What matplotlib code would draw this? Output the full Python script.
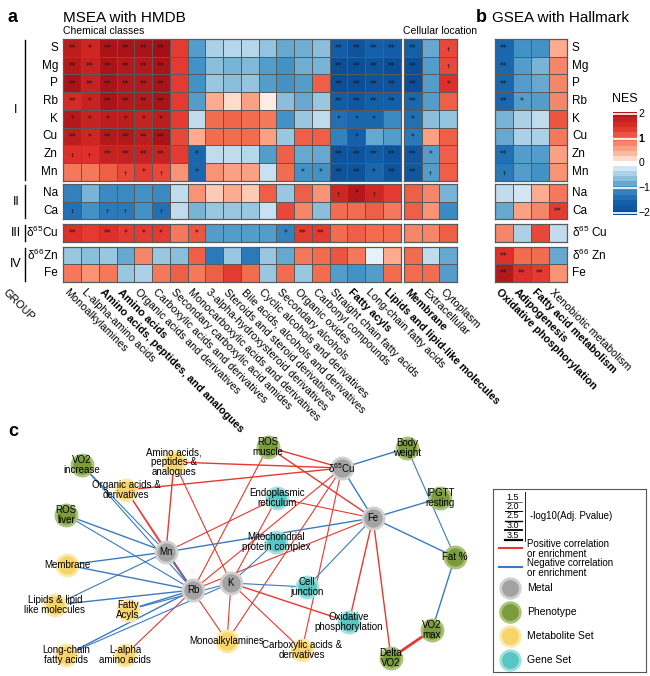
import numpy as np
import matplotlib.pyplot as plt
from matplotlib.colors import LinearSegmentedColormap, Normalize

plt.rcParams['font.family'] = ['Liberation Sans', 'DejaVu Sans']
plt.rcParams['mathtext.fontset'] = 'custom'
plt.rcParams['mathtext.rm'] = 'Liberation Sans'
plt.rcParams['mathtext.it'] = 'Liberation Sans:italic'
plt.rcParams['mathtext.bf'] = 'Liberation Sans:bold'

W, H = 650, 676

# ---------------- data ----------------
rows = ['S', 'Mg', 'P', 'Rb', 'K', 'Cu', 'Zn', 'Mn', 'Na', 'Ca',
        r'$\mathrm{\delta^{65}Cu}$', r'$\mathrm{\delta^{66}Zn}$', 'Fe']
rows_b = ['S', 'Mg', 'P', 'Rb', 'K', 'Cu', 'Zn', 'Mn', 'Na', 'Ca',
          r'$\mathrm{\delta^{65}}$ Cu', r'$\mathrm{\delta^{66}}$ Zn', 'Fe']
groups = ['I', 'II', 'III', 'IV']
group_rows = [8, 2, 1, 2]

chem_classes = ['Monoalkylamines', 'L-alpha-amino acids',
                'Amino acids, peptides, and analogues', 'Amino acids',
                'Organic acids and derivatives', 'Carboxylic acids and derivatives',
                'Secondary carboxylic acid amides', 'Monocarboxylic acids and derivatives',
                '3-alpha-hydroxysteroid derivatives', 'Steroids and steroid derivatives',
                'Bile acids, alcohols and derivatives', 'Cyclic alcohols and derivatives',
                'Secondary alcohols', 'Organic oxides', 'Carbonyl compounds',
                'Straight chain fatty acids', 'Fatty acyls', 'Long-chain fatty acids',
                'Lipids and lipid-like molecules']
chem_bold = ['Amino acids, peptides, and analogues', 'Amino acids',
             'Fatty acyls', 'Lipids and lipid-like molecules']
locations = ['Membrane', 'Extracellular', 'Cytoplasm']
loc_bold = ['Membrane']
hallmarks = ['Oxidative phosphorylation', 'Adipogenesis',
             'Fatty acid metabolism', 'Xenobiotic metabolism']
hall_bold = ['Oxidative phosphorylation', 'Adipogenesis', 'Fatty acid metabolism']

nes_chem = [
    [1.9, 1.7, 2.1, 2.1, 2.1, 2.2, 1.4, -0.9, -0.4, -0.35, -0.35, -0.55, -0.8, -0.75, -0.6, -1.7, -1.9, -1.6, -1.7],
    [2.0, 1.8, 2.1, 2.0, 2.0, 2.1, 1.4, -1.0, -0.6, -0.7, -0.65, -0.9, -1.0, -0.75, -0.7, -2.0, -2.0, -1.9, -2.0],
    [2.1, 1.8, 2.1, 2.0, 2.0, 2.1, 1.4, -1.0, -0.5, -0.6, -0.55, -0.9, -1.0, -0.9, 1.1, -2.0, -2.0, -1.9, -1.9],
    [1.6, 1.8, 2.1, 2.0, 2.0, 2.1, 1.4, -0.9, 0.5, 0.2, 0.6, 0.1, -0.6, -0.8, -0.5, -1.7, -1.8, -1.6, -1.6],
    [2.0, 1.8, 1.9, 1.9, 1.8, 1.9, 1.4, -0.3, 1.0, 1.05, 1.0, 0.9, -1.0, -0.5, -0.3, -1.4, -1.5, -1.5, -1.1],
    [1.9, 1.7, 2.0, 2.0, 1.9, 2.1, 1.3, 0.5, 1.0, 1.0, 1.0, 0.6, -0.5, 1.1, 1.1, -1.2, -1.6, -0.8, -0.9],
    [1.5, 1.5, 1.8, 1.8, 1.8, 1.8, 1.4, -1.5, -0.3, -0.3, -0.35, -0.9, 1.1, -0.8, -0.8, -1.9, -1.9, -1.7, -1.9],
    [0.9, 0.9, 1.1, 1.3, 1.4, 1.3, 0.7, -1.5, 0.7, 0.6, 0.6, -0.25, 1.0, -1.0, -1.0, -1.9, -1.9, -1.5, -1.9],
    [-1.2, -0.7, -1.1, -1.1, -1.0, -1.1, -0.3, 0.7, 0.3, 0.5, 0.3, 1.1, -0.5, 1.1, 0.7, 1.7, 2.0, 1.7, 1.4],
    [-1.4, -1.0, -1.3, -1.3, -1.0, -1.4, -0.3, -0.7, -0.5, -0.5, -0.5, -0.25, 1.3, 0.8, -0.6, 1.0, 1.0, 1.1, 0.9],
    [1.5, 1.4, 1.5, 1.4, 1.4, 1.4, 0.9, 1.2, -0.9, -0.9, -0.9, -0.9, -1.2, 1.4, 1.4, 1.0, 1.1, 1.0, 1.0],
    [-0.5, -0.6, -0.5, -0.8, 0.8, -0.5, -0.6, 1.1, -1.3, -0.5, -1.3, -0.5, -0.8, 0.9, 1.0, 1.2, 0.9, -0.1, 0.5],
    [0.9, 0.7, 0.9, -0.5, -0.4, 0.9, 1.1, 0.9, 1.1, 1.4, 1.0, -0.5, 1.0, -0.5, 1.0, -0.9, -1.0, -0.9, 1.0],
]
sig_chem = [
    ['**', '*', '**', '**', '**', '**'] + [''] * 9 + ['**', '**', '**', '**'],
    ['**'] * 6 + [''] * 9 + ['**'] * 4,
    ['**'] * 6 + [''] * 9 + ['**'] * 4,
    ['**', '*', '**', '**', '**', '**'] + [''] * 9 + ['**'] * 4,
    ['*'] * 6 + [''] * 9 + ['*', '*', '*', ''],
    ['**', '*', '**', '**', '**', '**'] + [''] * 10 + ['*', '', ''],
    ['†', '†', '**', '**', '**', '**', '', '*'] + [''] * 7 + ['**'] * 4,
    ['', '', '', '†', '*', '†', '', '*', '', '', '', '', '', '*', '*', '**', '**', '*', '**'],
    [''] * 15 + ['†', '*', '†', ''],
    ['†', '', '†', '†', '', '†'] + [''] * 13,
    ['**', '', '**', '*', '*', '*', '', '*', '', '', '', '', '*', '**', '**', '', '', '', ''],
    [''] * 19,
    [''] * 19,
]
nes_loc = [[-1.6, -0.8, 1.3], [-2.0, -0.9, 1.3], [-2.0, -0.9, 1.5], [-1.5, -0.9, 1.1],
           [-1.4, -0.6, -0.55], [-1.3, 0.6, 1.1], [-1.8, -0.9, 1.1], [-1.8, -0.9, 1.1],
           [1.1, 0.8, -0.7], [1.1, 0.7, -1.1], [0.8, 0.8, 1.1], [1.0, -0.3, -0.8],
           [1.0, 1.0, -0.9]]
sig_loc = [['**', '', '†'], ['**', '', '†'], ['**', '', '*'], ['**', '', ''],
           ['*', '', ''], ['*', '', ''], ['**', '*', ''], ['**', '†', ''],
           ['', '', ''], ['', '', ''], ['', '', ''], ['', '', ''], ['', '', '']]
nes_hall = [[-1.5, -1.0, -1.0, 0.5], [-1.5, -0.9, -0.7, 0.8], [-1.5, -0.9, -0.8, 0.8],
            [-1.5, -0.9, -0.9, 0.8], [-0.7, -0.4, -0.3, 1.2], [-0.8, -0.4, -0.4, 0.9],
            [-1.4, -0.9, -0.9, 0.6], [-1.3, -0.9, -1.0, 0.7], [-0.3, -0.2, 0.5, 0.9],
            [-0.8, 0.6, 0.8, 1.4], [0.8, -0.4, 1.3, -0.3], [1.5, 1.0, 1.0, -0.8],
            [2.0, 1.5, 1.4, 0.7]]
sig_hall = [['**', '', '', ''], ['**', '', '', ''], ['**', '', '', ''], ['**', '*', '', ''],
            ['', '', '', ''], ['', '', '', ''], ['**', '', '', ''], ['†', '', '', ''],
            ['', '', '', ''], ['', '', '', '**'], ['', '', '', ''], ['**', '', '', ''],
            ['**', '**', '**', '']]

# network: nodes and edges (a, b, sign, weight)
node_names = ['Cu65', 'Fe', 'Mn', 'Rb', 'K',
              'VO2inc', 'ROSm', 'BW', 'ROSl', 'IPGTT', 'Fat', 'VO2max', 'dVO2',
              'AA', 'OA', 'Memb', 'Lip', 'FA', 'LCFA', 'LAA', 'Mono', 'Carb',
              'ER', 'Mito', 'CJ', 'OxPhos']
node_labels = [r'$\mathrm{\delta^{65}Cu}$', 'Fe', 'Mn', 'Rb', 'K',
               'VO2\nincrease', 'ROS\nmuscle', 'Body\nweight', 'ROS\nliver', 'IPGTT\nresting',
               'Fat %', 'VO2\nmax', 'Delta\nVO2',
               'Amino acids,\npeptides &\nanalogues', 'Organic acids &\nderivatives', 'Membrane',
               'Lipids & lipid\nlike molecules', 'Fatty\nAcyls', 'Long-chain\nfatty acids',
               'L-alpha\namino acids', 'Monoalkylamines', 'Carboxylic acids &\nderivatives',
               'Endoplasmic\nreticulum', 'Mitochondrial\nprotein complex', 'Cell\njunction',
               'Oxidative\nphosphorylation']
node_types = ['Metal'] * 5 + ['Phenotype'] * 8 + ['Metabolite Set'] * 9 + ['Gene Set'] * 4
node_x = [342, 373, 166, 193, 231, 82, 268, 407, 66, 440, 455, 432, 391,
          174, 126, 67, 55, 128, 66, 125, 227, 302, 277, 276, 307, 349]
node_y = [468, 518, 552, 590, 583, 465, 447, 448, 515, 498, 557, 630, 658,
          462, 490, 565, 605, 610, 655, 655, 641, 650, 498, 542, 587, 622]
edges = [
    ('AA', 'Cu65', 1, 1.0), ('AA', 'Mn', 1, 1.0), ('AA', 'K', 1, 0.8), ('OA', 'Cu65', 1, 1.0),
    ('OA', 'Mn', 1, 0.8), ('ROSm', 'Cu65', 1, 1.0), ('ROSm', 'Fe', 1, 1.0), ('ROSm', 'Rb', 1, 0.8),
    ('Cu65', 'Mono', 1, 0.8), ('Cu65', 'Carb', 1, 0.8), ('Cu65', 'Rb', 1, 0.8),
    ('Fe', 'dVO2', 1, 1.0), ('Fe', 'OxPhos', 1, 1.0), ('Fe', 'ER', 1, 0.8), ('Fe', 'Rb', 1, 0.8),
    ('K', 'Mono', 1, 0.8), ('K', 'OxPhos', 1, 1.0), ('K', 'Carb', 1, 0.8), ('K', 'ER', 1, 0.8),
    ('Rb', 'LAA', 1, 0.8), ('Mn', 'Mono', 1, 0.8), ('VO2max', 'dVO2', 1, 2.0),
    ('Mn', 'ER', 1, 0.8), ('Rb', 'OA', 1, 0.8),
    ('BW', 'Cu65', -1, 1.0), ('Cu65', 'Fe', -1, 1.0), ('Fe', 'IPGTT', -1, 1.0), ('Fe', 'Fat', -1, 1.0),
    ('Fe', 'Mn', -1, 1.0), ('Fe', 'CJ', -1, 0.8), ('Fat', 'VO2max', -1, 1.0), ('Fat', 'BW', -1, 0.8),
    ('Mn', 'ROSl', -1, 1.0), ('Mn', 'Memb', -1, 1.0), ('Mn', 'Lip', -1, 0.8), ('Rb', 'Memb', -1, 1.0),
    ('Rb', 'Lip', -1, 1.0), ('Rb', 'FA', -1, 1.0), ('Rb', 'LCFA', -1, 1.0), ('K', 'FA', -1, 0.8),
    ('K', 'LCFA', -1, 0.8), ('Rb', 'VO2inc', -1, 0.8), ('Mn', 'VO2inc', -1, 0.8),
    ('K', 'Mito', -1, 0.8), ('K', 'CJ', -1, 0.8), ('ROSl', 'Rb', -1, 0.8), ('Mn', 'Rb', -1, 1.0),
]

# ---------------- helpers ----------------
fig = plt.figure(figsize=(W / 100, H / 100), dpi=100)


def px_axes(x0, y0, x1, y1):
    return fig.add_axes([x0 / W, 1 - y1 / H, (x1 - x0) / W, (y1 - y0) / H])


def ftext(x, y, s, **kw):
    fig.text(x / W, 1 - y / H, s, **kw)


cmap = LinearSegmentedColormap.from_list('nes', [
    (0.00, '#08468f'), (0.14, '#1461aa'), (0.27, '#4292c6'), (0.39, '#9ecae1'),
    (0.47, '#deebf7'), (0.50, '#ffffff'), (0.53, '#fee5d9'), (0.61, '#fcae91'),
    (0.73, '#f26c4f'), (0.84, '#e0302a'), (1.00, '#a50f15')])
norm = Normalize(-2.2, 2.2)

row_top = [39, 184, 224, 246.5]
row_h = 17.7


def draw_block(x0, x1, vals, sigs):
    vals = np.array(vals)
    r = 0
    for g, n in enumerate(group_rows):
        y0 = row_top[g]
        ax = px_axes(x0, y0, x1, y0 + n * row_h)
        ax.pcolormesh(vals[r:r + n], cmap=cmap, norm=norm, edgecolors='#5a5a5a', linewidth=0.6)
        for i in range(n):
            for j in range(vals.shape[1]):
                s = sigs[r + i][j]
                if s:
                    ax.text(j + 0.5, i + 0.55, s, ha='center', va='center',
                            fontsize=4.5 if s == '†' else 5.5,
                            color='#1a1a1a', family='DejaVu Sans')
        ax.set_xlim(0, vals.shape[1])
        ax.set_ylim(n, 0)
        ax.set_xticks([])
        ax.set_yticks([])
        for sp in ax.spines.values():
            sp.set_color('#5a5a5a')
            sp.set_linewidth(0.9)
        r += n


cw = (400.7 - 63.3) / 19
draw_block(63.3, 400.7, nes_chem, sig_chem)
draw_block(404, 457, nes_loc, sig_loc)
draw_block(495, 567, nes_hall, sig_hall)

# row labels
for i, lab in enumerate(rows):
    g = 0 if i < 8 else (1 if i < 10 else (2 if i < 11 else 3))
    start = sum(group_rows[:g])
    yc = row_top[g] + (i - start + 0.5) * row_h
    ftext(58, yc, lab, ha='right', va='center', fontsize=8.5)
    ftext(572, yc, rows_b[i], ha='left', va='center', fontsize=8.5)

# group brackets
for g, n in enumerate(group_rows):
    y0 = row_top[g]
    y1 = y0 + n * row_h
    fig.add_artist(plt.Line2D([25 / W, 25 / W], [1 - (y0 + 1) / H, 1 - (y1 - 1) / H],
                              color='black', lw=1))
    ftext(16, (y0 + y1) / 2, groups[g], ha='center', va='center', fontsize=9)

# column labels
lab_y = 287
for j, lab in enumerate(chem_classes):
    ftext(63.3 + (j + 0.5) * cw - 3, lab_y, lab, rotation=-45, ha='left', va='top',
          rotation_mode='anchor', fontsize=7.8,
          fontweight='bold' if lab in chem_bold else 'normal')
for j, lab in enumerate(locations):
    ftext(404 + (j + 0.5) * 17.67 - 3, lab_y, lab, rotation=-45, ha='left', va='top',
          rotation_mode='anchor', fontsize=7.8,
          fontweight='bold' if lab in loc_bold else 'normal')
for j, lab in enumerate(hallmarks):
    ftext(495 + (j + 0.5) * 18 - 3, lab_y, lab, rotation=-45, ha='left', va='top',
          rotation_mode='anchor', fontsize=7.8,
          fontweight='bold' if lab in hall_bold else 'normal')
ftext(8, lab_y, 'GROUP', rotation=-45, ha='left', va='top', rotation_mode='anchor', fontsize=7.8)

# titles
ftext(8, 17, 'a', fontsize=13, fontweight='bold', va='center')
ftext(63, 18, 'MSEA with HMDB', fontsize=11, va='center')
ftext(63, 31, 'Chemical classes', fontsize=7.5, va='center')
ftext(403, 31, 'Cellular location', fontsize=7.5, va='center')
ftext(476, 17, 'b', fontsize=13, fontweight='bold', va='center')
ftext(492, 18, 'GSEA with Hallmark', fontsize=11, va='center')
ftext(8, 432, 'c', fontsize=13, fontweight='bold', va='center')

# colorbar
cax = px_axes(613, 112, 637, 215)
lev = np.linspace(-2.1, 2.1, 22)
cax.pcolormesh([0, 1], lev, ((lev[:-1] + lev[1:]) / 2)[:, None], cmap=cmap, norm=norm)
for t in [2, 1, -1, -2]:
    cax.axhline(t, color='white', lw=1.2)
cax.set_ylim(-2.1, 2.1)
cax.set_xticks([])
cax.set_yticks([])
for sp in cax.spines.values():
    sp.set_visible(False)
ftext(612, 99, 'NES', fontsize=9, va='center')
for t in [2, 1, 0, -1, -2]:
    ftext(638.5, 163.5 - t * 24.8, '−' + str(abs(t)) if t < 0 else str(t),
          fontsize=7.5, va='center', fontweight='bold' if t == 1 else 'normal')

# ---------------- network ----------------
nax = px_axes(0, 425, 490, 676)
nax.set_xlim(0, 490)
nax.set_ylim(676, 425)
nax.axis('off')
pos = {n: (x, y) for n, x, y in zip(node_names, node_x, node_y)}
for a, b, sgn, w in edges:
    nax.plot([pos[a][0], pos[b][0]], [pos[a][1], pos[b][1]],
             color='#e8382f' if sgn > 0 else '#3a7bbf', lw=w, zorder=1)
type_face = {'Metal': '#a3a3a3', 'Phenotype': '#7b9b3c',
             'Metabolite Set': '#f7d46a', 'Gene Set': '#58c6c2'}
type_edge = {'Metal': '#d0d0d0', 'Phenotype': '#a9c37a',
             'Metabolite Set': '#fbe9a8', 'Gene Set': '#a3e0dd'}
for n, lab, t in zip(node_names, node_labels, node_types):
    x, y = pos[n]
    nax.scatter([x], [y], s=230, color=type_face[t], edgecolors=type_edge[t],
                linewidths=2, zorder=2)
    nax.text(x, y, lab, ha='center', va='center', fontsize=7, zorder=3,
             linespacing=0.95)

# legend box
lax = px_axes(493, 489, 646, 672)
lax.set_xlim(493, 646)
lax.set_ylim(672, 489)
lax.set_xticks([])
lax.set_yticks([])
for sp in lax.spines.values():
    sp.set_color('#555555')
    sp.set_linewidth(0.8)
size_vals = ['1.5', '2.0', '2.5', '3.0', '3.5']
for k, v in enumerate(size_vals):
    yy = 497 + k * 9.5
    lax.text(513, yy, v, ha='center', va='center', fontsize=6.5)
    lax.plot([505, 522], [yy + 4.5, yy + 4.5], color='black', lw=0.4 + 0.3 * k)
lax.plot([525, 525], [492, 541], color='black', lw=0.6)
lax.text(530, 516, '-log10(Adj. Pvalue)', ha='left', va='center', fontsize=7)
lax.plot([499, 522], [548, 548], color='#e8382f', lw=1.5)
lax.text(527, 549, 'Positive correlation\nor enrichment', ha='left', va='center',
         fontsize=7, linespacing=0.9)
lax.plot([499, 522], [567, 567], color='#3a7bbf', lw=1.5)
lax.text(527, 568, 'Negative correlation\nor enrichment', ha='left', va='center',
         fontsize=7, linespacing=0.9)
for k, t in enumerate(['Metal', 'Phenotype', 'Metabolite Set', 'Gene Set']):
    yy = 588 + k * 24
    lax.scatter([510], [yy], s=200, color=type_face[t], edgecolors=type_edge[t], linewidths=2)
    lax.text(527, yy, t, ha='left', va='center', fontsize=7.5)

fig.savefig('out.png', dpi=100)
